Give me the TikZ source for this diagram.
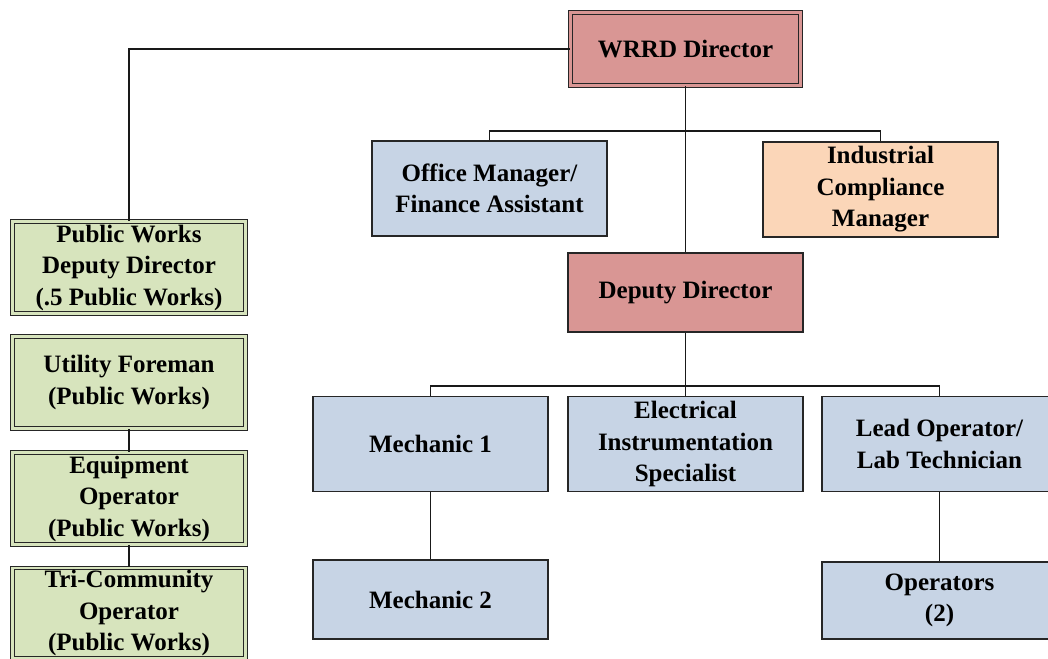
\documentclass[tikz,border=0pt]{standalone}
\usepackage{fontspec}
\setmainfont{Liberation Serif}
\definecolor{redbox}{RGB}{217,150,148}
\definecolor{bluebox}{RGB}{199,212,229}
\definecolor{peachbox}{RGB}{251,214,184}
\definecolor{greenbox}{RGB}{215,228,189}
\begin{document}
\begin{tikzpicture}[x=1pt,y=-1pt,
    box/.style={rectangle,draw=black!85,line width=1.2pt,align=center,
      inner sep=2pt,minimum width=235pt,minimum height=95pt,
      font=\fontsize{25}{31.5}\selectfont\bfseries},
    dblbox/.style={box,line width=1.1pt,double distance=2.2pt},
    link/.style={draw=black!90,line width=1.3pt}]
      \useasboundingbox (0,0) rectangle (1048,658);%
      \clip (0,0) rectangle (1048,658);%

      % top of the chart
      \node[dblbox,double=redbox,fill=redbox,minimum width=230pt,minimum height=73pt] (wrrd) at (685.5,49) {WRRD Director};%
      \node[box,fill=bluebox] (office) at (489.5,188.5) {Office Manager/\\Finance Assistant};%
      \node[box,fill=peachbox] (indus) at (880.5,189.5) {Industrial\\Compliance\\Manager};%
      \node[box,fill=redbox,minimum height=79pt] (deputy) at (685.5,292.5) {Deputy Director};%

      % staff under the deputy
      \node[box,fill=bluebox] (mech1) at (430.5,444) {Mechanic 1};%
      \node[box,fill=bluebox] (elec) at (685.5,444) {Electrical\\Instrumentation\\Specialist};%
      \node[box,fill=bluebox] (lead) at (939.5,444) {Lead Operator/\\Lab Technician};%
      \node[box,fill=bluebox,minimum height=79pt] (mech2) at (430.5,599.5) {Mechanic 2};%
      \node[box,fill=bluebox,minimum height=77pt] (ops) at (939.5,600.5) {Operators\\(2)};%

      % public works column
      \node[dblbox,double=greenbox,fill=greenbox,minimum width=233pt,minimum height=92pt] (pwdep) at (129,267.5) {Public Works\\Deputy Director\\(.5 Public Works)};%
      \node[dblbox,double=greenbox,fill=greenbox,minimum width=233pt,minimum height=92pt] (util) at (129,382.5) {Utility Foreman\\(Public Works)};%
      \node[dblbox,double=greenbox,fill=greenbox,minimum width=233pt,minimum height=92pt] (equip) at (129,498.5) {Equipment\\Operator\\(Public Works)};%
      \node[dblbox,double=greenbox,fill=greenbox,minimum width=233pt,minimum height=90pt] (tri) at (129,613) {Tri-Community\\Operator\\(Public Works)};%

      \coordinate (topbus) at (685.5,131);%
      \coordinate (midbus) at (685.5,386);%

      \draw[link] (wrrd.west) -| (pwdep.north);%
      \draw[link] (wrrd.south) -- (deputy.north);%
      \draw[link] (office.north) |- (topbus) -| (indus.north);%
      \draw[link] (deputy.south) -- (elec.north);%
      \draw[link] (mech1.north) |- (midbus) -| (lead.north);%
      \draw[link] (mech1.south) -- (mech2.north);%
      \draw[link] (lead.south) -- (ops.north);%
      \draw[link] (util.south) -- (equip.north);%
      \draw[link] (equip.south) -- (tri.north);%
    \end{tikzpicture}
\end{document}
